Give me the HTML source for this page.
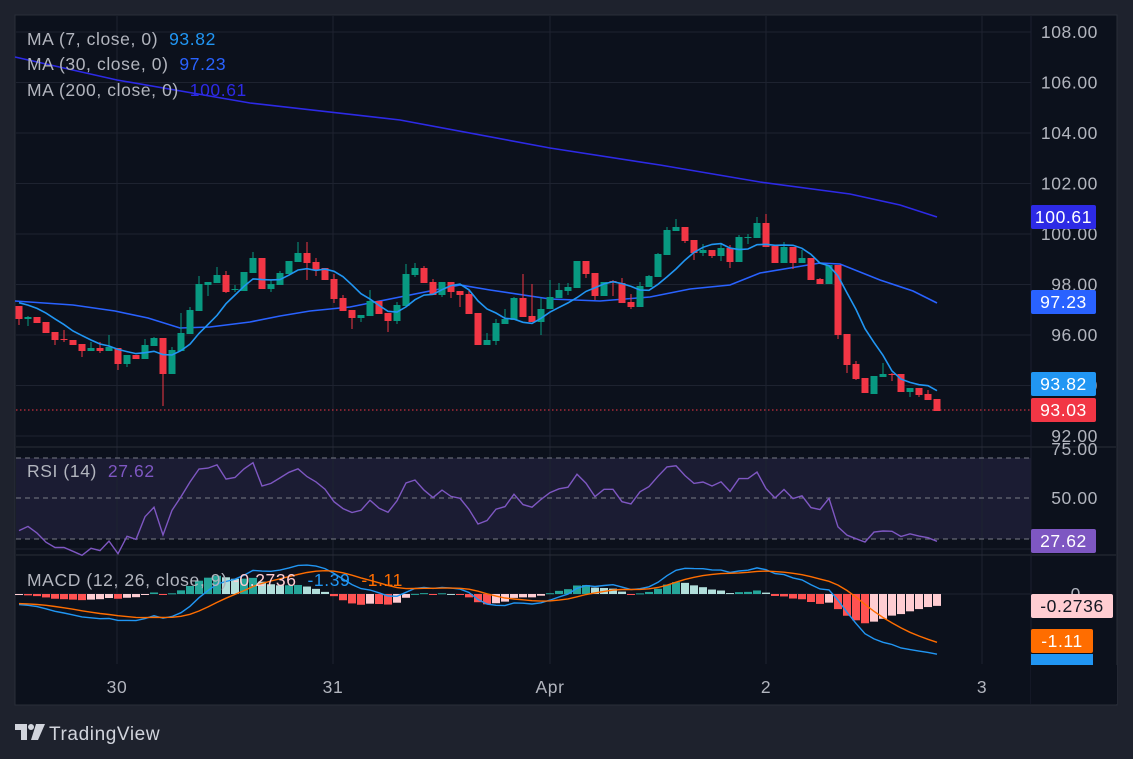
<!DOCTYPE html>
<html><head><meta charset="utf-8">
<style>
html,body{margin:0;padding:0;background:#1e222d;width:1133px;height:759px;overflow:hidden;font-family:"Liberation Sans",sans-serif;}
svg{position:absolute;left:0;top:0}
</style></head><body>
<svg id="s" width="1133" height="759" xmlns="http://www.w3.org/2000/svg"></svg>
<script>
const C=[
[306,319,306,325,0],[317,319,316,326,1],[317,323,317,323,0],[322,333,322,333,0],[332,340,332,345,0],[339,340,330,342,0],[340,345,340,345,0],[344,351,344,357,0],[348,351,342,351,1],[348,351,342,353,0],
[347,351,335,351,1],[348,364,348,370,0],[355,364,355,367,1],[355,359,355,359,0],[345,359,339,359,1],[338,346,337,346,1],[338,374,338,406,0],[350,374,347,374,1],[333,351,313,351,1],[310,334,307,334,1],
[284,311,276,311,1],[282,285,282,296,1],[275,283,267,283,1],[275,292,271,293,0],[289,290,285,292,1],[272,291,272,291,1],[258,273,252,273,1],[258,289,258,289,0],[284,289,280,292,1],[273,285,271,285,1],
[261,274,261,274,1],[253,262,242,262,1],[253,263,242,280,0],[262,270,258,276,0],[268,280,268,280,0],[279,299,274,303,0],[298,311,295,311,0],[310,318,310,329,0],[315,318,315,322,1],[301,316,290,316,1],
[301,314,301,314,0],[313,321,313,332,0],[305,321,302,324,1],[274,306,264,306,1],[268,275,263,277,1],[268,283,266,283,0],[282,295,279,295,0],[282,295,282,297,1],[282,292,282,298,0],[291,295,291,307,0],
[294,314,289,314,0],[313,345,313,345,0],[340,345,333,345,1],[323,341,319,345,1],[319,324,309,324,1],[298,320,297,320,1],[298,317,274,317,0],[316,322,284,322,0],[309,322,298,335,1],[297,309,280,309,1],
[290,298,283,298,1],[287,291,283,295,1],[261,288,261,288,1],[261,274,261,278,0],[273,296,273,300,0],[282,296,282,296,1],[281,282,280,296,0],[283,303,278,303,0],[302,307,294,309,0],[286,307,282,307,1],
[276,287,275,287,1],[254,277,253,277,1],[230,255,227,255,1],[227,231,219,231,1],[227,241,227,243,0],[240,253,240,260,0],[250,253,244,256,1],[250,256,250,258,0],[248,256,243,261,1],[248,262,245,268,0],
[237,262,235,262,1],[237,238,234,244,1],[223,238,217,238,1],[223,247,214,247,0],[246,263,246,263,0],[247,263,242,263,1],[247,263,247,269,0],[258,263,250,263,1],[258,280,258,280,0],[279,284,278,284,0],
[265,284,265,284,1],[265,335,265,339,0],[334,365,334,373,0],[364,379,361,380,0],[378,393,378,393,0],[376,394,376,394,1],[374,377,363,377,1],[374,375,373,381,0],[374,392,374,392,0],[388,392,388,397,1],
[388,395,388,397,0],[394,400,390,400,0],[399,411,399,411,0]];
const N=C.length, X=i=>19+9*i;
const P=y=>108-(y-32)/25.25;
let closes=C.map(c=>P(c[4]?c[0]:c[1]));
let ns='http://www.w3.org/2000/svg',s=document.getElementById('s');
function el(t,a,txt){let e=document.createElementNS(ns,t);for(let k in a)e.setAttribute(k,a[k]);if(txt!==undefined)e.textContent=txt;s.appendChild(e);return e;}
el('rect',{x:15,y:15,width:1102,height:690,fill:'#0c111c',stroke:'#2a2e39','stroke-width':1});
el('rect',{x:16,y:458,width:1015,height:81,fill:'#1b1c33'});
for(let k=0;k<9;k++){let y=32+50.5*k;el('line',{x1:16,x2:1031,y1:y,y2:y,stroke:'#1e2330'});}
[117,333,550,766,982].forEach(x=>el('line',{x1:x,x2:x,y1:16,y2:664,stroke:'#1e2330'}));
el('line',{x1:16,x2:1116,y1:447,y2:447,stroke:'#2a2e39'});
el('line',{x1:16,x2:1116,y1:555,y2:555,stroke:'#2a2e39'});
el('line',{x1:16,x2:1031,y1:549,y2:549,stroke:'#1e2330'});
el('line',{x1:16,x2:1031,y1:594,y2:594,stroke:'#1e2330'});
el('line',{x1:1031,x2:1031,y1:16,y2:704,stroke:'#1c2030'});
[458,498,539].forEach(y=>el('line',{x1:16,x2:1031,y1:y,y2:y,stroke:'#787b86','stroke-dasharray':'5,4','stroke-width':1}));
el('polyline',{points:'15,57 117,80 250,103 400,120 550,148 660,165 760,182 850,194 900,205 937,217',fill:'none',stroke:'#2d2ae6','stroke-width':1.6});
el('polyline',{points:'15,301 73,305 115,311 148,318 180,328 210,327 250,322 280,316 310,311 350,307 400,297 460,285 490,290 550,299 600,301 650,297 690,289 730,285 760,273 820,263 840,264 880,280 913,291 937,303',fill:'none',stroke:'#2962ff','stroke-width':1.6});
C.forEach((c,i)=>{let x=X(i),col=c[4]?'#089981':'#f23645';
el('line',{x1:x,x2:x,y1:c[2],y2:c[3],stroke:col,'stroke-width':1});
el('rect',{x:x-3.5,y:c[0],width:7,height:Math.max(1,c[1]-c[0]),fill:col});});
let ma7=[];for(let i=0;i<N;i++){let a=0,n=0;for(let j=Math.max(0,i-6);j<=i;j++){a+=closes[j];n++;}
let pre=7-n;a+=pre*(P(300));ma7.push(a/7);}
el('polyline',{points:ma7.map((v,i)=>X(i)+','+(32+(108-v)*25.25).toFixed(1)).join(' '),fill:'none',stroke:'#2196f3','stroke-width':1.6});
el('line',{x1:16,x2:1031,y1:410,y2:410,stroke:'#f23645','stroke-dasharray':'1.5,2.5'});
let pre=[];for(let k=0;k<40;k++)pre.push(98.4-k*0.035+Math.sin(k)*0.25);
let all=pre.concat(closes);let ag=0,al=0,rsi=[];
for(let i=1;i<all.length;i++){let d=all[i]-all[i-1];let g=Math.max(d,0),l=Math.max(-d,0);
if(i<=14){ag+=g/14;al+=l/14;}else{ag=(ag*13+g)/14;al=(al*13+l)/14;}
if(i-1>=pre.length-1)rsi.push(100-100/(1+ag/(al||1e-9)));}
rsi=rsi.slice(-N);
el('polyline',{points:rsi.map((v,i)=>X(i)+','+(498-(v-50)*2.0).toFixed(1)).join(' '),fill:'none',stroke:'#7e57c2','stroke-width':1.4});
let e12=all[0],e26=all[0],sig=null,m=[],sg=[];
all.forEach((v,i)=>{e12=e12+(v-e12)*2/13;e26=e26+(v-e26)*2/27;let mm=e12-e26;sig=sig===null?mm:sig+(mm-sig)*0.2;m.push(mm);sg.push(sig);});
m=m.slice(-N);sg=sg.slice(-N);const MY=v=>594-v*43;
m.forEach((v,i)=>{let h=v-sg[i];let ph=i?m[i-1]-sg[i-1]:h;let col=h>=0?(h>=ph?'#26a69a':'#b2dfdb'):(h<ph?'#ff5252':'#ffcdd2');
let y1=MY(Math.max(h,0)),y2=MY(Math.min(h,0));el('rect',{x:X(i)-4,y:y1,width:8,height:Math.max(1,y2-y1),fill:col});});
el('polyline',{points:m.map((v,i)=>X(i)+','+MY(v).toFixed(1)).join(' '),fill:'none',stroke:'#2196f3','stroke-width':1.4});
el('polyline',{points:sg.map((v,i)=>X(i)+','+MY(v).toFixed(1)).join(' '),fill:'none',stroke:'#ff6d00','stroke-width':1.4});
const FS=17.5,LS=0.6;
const T=(x,y,t,c,sz,anch)=>el('text',{x:x,y:y,fill:c,'font-size':sz||FS,'letter-spacing':LS,'text-anchor':anch||'start'},t);
function L(y,html){let t=el('text',{x:27,y:y,'font-size':FS,'letter-spacing':LS,fill:'#b2b5be'});t.innerHTML=html;}
L(45,'MA (7, close, 0) <tspan fill="#2196f3">&#160;93.82</tspan>');
L(70,'MA (30, close, 0) <tspan fill="#2962ff">&#160;97.23</tspan>');
L(96,'MA (200, close, 0) <tspan fill="#2d2ae6">&#160;100.61</tspan>');
L(477,'RSI (14) <tspan fill="#7e57c2">&#160;27.62</tspan>');
L(586,'MACD (12, 26, close, 9) <tspan fill="#ffcdd2">-0.2736</tspan> <tspan fill="#2196f3">&#160;-1.39</tspan> <tspan fill="#ff6d00">&#160;-1.11</tspan>');
['108.00','106.00','104.00','102.00','100.00','98.00','96.00','94.00','92.00'].forEach((l,k)=>T(1098,32+50.5*k+6,l,'#b2b5be',FS,'end'));
T(1098,455,'75.00','#b2b5be',FS,'end');T(1098,504,'50.00','#b2b5be',FS,'end');T(1081,600,'0','#b2b5be',FS,'end');
[['30',117],['31',333],['Apr',550],['2',766],['3',982]].forEach(a=>T(a[1],693,a[0],'#b2b5be',FS,'middle'));
function B(y,txt,bg,fg,w){el('rect',{x:1031,y:y-12,width:w||65,height:24,rx:2,fill:bg});T(1031+(w||65)/2,y+6,txt,fg,17.5,'middle');}
B(217,'100.61','#2d2ae6','#fff');B(302,'97.23','#2962ff','#fff');B(384,'93.82','#2196f3','#fff');B(410,'93.03','#f23645','#fff');
B(541,'27.62','#7e57c2','#fff');
el('rect',{x:1031,y:654,width:62,height:11,fill:'#2196f3'});
B(641,'-1.11','#ff6d00','#fff',62);B(606,'-0.2736','#ffcdd2','#131722',82);
el('rect',{x:1031,y:665,width:86,height:39,fill:'#0c111c'});
el('path',{d:'M15 724h12v16h-6v-10h-6z',fill:'#d1d4dc'});
el('circle',{cx:31,cy:727,r:3,fill:'#d1d4dc'});
el('path',{d:'M36 724h9l-7 16h-7z',fill:'#d1d4dc'});
T(49,740,'TradingView','#d1d4dc',19);
</script>
</body></html>
